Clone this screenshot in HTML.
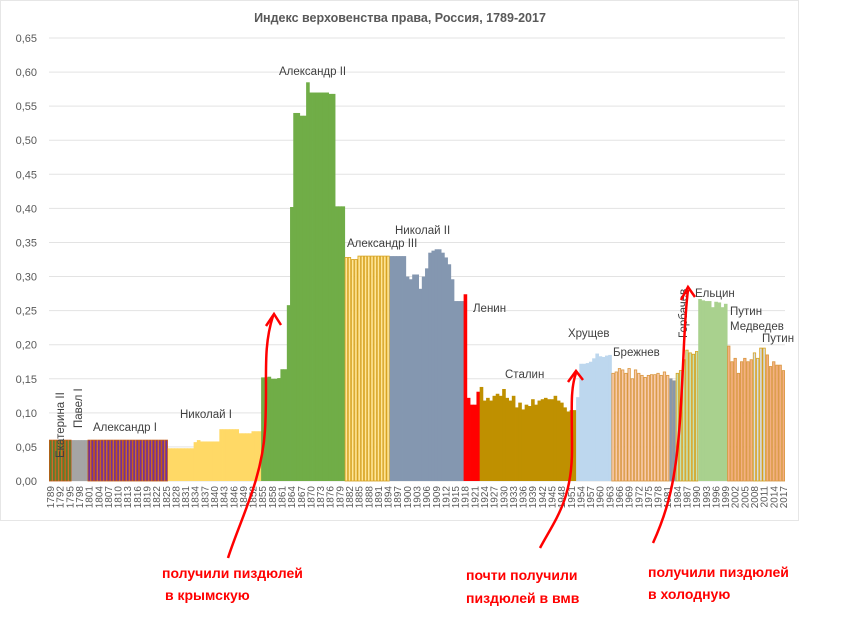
<!DOCTYPE html>
<html><head><meta charset="utf-8"><style>
body{margin:0;background:#fff;}
svg{display:block;font-family:"Liberation Sans","DejaVu Sans",sans-serif;}
</style></head><body>
<svg id="chart" width="853" height="642" viewBox="0 0 853 642">
<rect x="0.5" y="0.5" width="798" height="520" fill="none" stroke="#e6e6e6"/>
<text x="400" y="22" text-anchor="middle" font-size="12.5" font-weight="bold" fill="#595959">Индекс верховенства права, Россия, 1789-2017</text>
<g id="grid"></g><g id="bars"></g><g id="xlabels"></g><g id="rulers"></g><g id="notes"></g>
</svg>
<script>
const startYear = 1789;
const ekaterina = [0.06,0.06,0.06,0.06,0.06,0.06,0.06];
const pavel = [0.06,0.06,0.06,0.06,0.06];
const alexander1 = [0.06,0.06,0.06,0.06,0.06, 0.06,0.06,0.06,0.06,0.06, 0.06,0.06,0.06,0.06,0.06, 0.06,0.06,0.06,0.06,0.06, 0.06,0.06,0.06,0.06,0.06];
const nicholas1 = [0.048,0.048,0.048,0.048,0.048,0.048,0.048,0.048, 0.057,0.06, 0.058,0.058,0.058,0.058,0.058,0.058, 0.076,0.076,0.076,0.076,0.076,0.076, 0.07,0.07,0.07,0.07, 0.073,0.073,0.073];
const alexander2 = [0.152,0.152,0.153,0.150,0.150,0.151,0.164,0.164,0.258,0.402,0.540,0.540,0.536,0.536,0.585,0.570,0.570,0.570,0.570,0.570,0.570,0.568,0.568,0.403,0.403,0.403];
const alexander3 = [0.328,0.328,0.325,0.325,0.330,0.330,0.330,0.330,0.330,0.330,0.330,0.330,0.330,0.330];
const nicholas2 = [0.330,0.330,0.330,0.330,0.330,0.300,0.296,0.303,0.303,0.282,0.300,0.312,0.335,0.338,0.340,0.340,0.335,0.328,0.318,0.296,0.264,0.264,0.264];
const lenin = [0.274,0.122,0.112,0.112,0.131];
const stalin = [0.138,0.118,0.122,0.118,0.125,0.128,0.125,0.135,0.122,0.118,0.125,0.108,0.115,0.105,0.112,0.110,0.120,0.112,0.118,0.120,0.122,0.120,0.120,0.125,0.118,0.115,0.108,0.102,0.104,0.104];
const khrushchev = [0.123,0.172,0.172,0.173,0.175,0.180,0.187,0.183,0.182,0.184,0.185];
const brezhnev = [0.158,0.160,0.165,0.163,0.158,0.165,0.150,0.163,0.158,0.155,0.152,0.155,0.156,0.156,0.158,0.155,0.160,0.155];
const andropov = [0.150,0.147];
const gorbachev = [0.158,0.162,0.178,0.192,0.188,0.186,0.190];
const yeltsin = [0.267,0.265,0.264,0.264,0.255,0.263,0.262,0.255,0.260];
const putin1 = [0.198,0.175,0.180,0.158,0.175,0.180,0.175,0.178];
const medvedev = [0.188,0.180,0.195,0.195];
const putin2 = [0.185,0.168,0.175,0.170,0.170,0.162];
const rulerSeries = [ekaterina,pavel,alexander1,nicholas1,alexander2,alexander3,nicholas2,lenin,stalin,khrushchev,brezhnev,andropov,gorbachev,yeltsin,putin1,medvedev,putin2];
const rulerFill = ["#548235","#a5a5a5","#7030a0","#ffd966","#70ad47","#ffe699","#8497b0","#ff0000","#bf9000","#bdd7ee","#f8cbad","#8497b0","#c5e0b4","#a9d18e","#f4b183","#d6dce5","#f4b183"];
const rulerStroke = ["#c55a11","none","#c55a11","none","none","#d6a11c","none","none","none","none","#d9963e","#999999","#d6a11c","none","#d9963e","#d6a11c","#d9963e"];
const yTicks = ["0,00","0,05","0,10","0,15","0,20","0,25","0,30","0,35","0,40","0,45","0,50","0,55","0,60","0,65"];

const X0=49, X1=785, Y0=481, YTOP=38, VMAX=0.65;
const n = rulerSeries.reduce((s,a)=>s+a.length,0);
const bw = (X1-X0)/n;
const xs = i => X0 + i*bw;
const ys = v => Y0 - v/VMAX*(Y0-YTOP);
const NS="http://www.w3.org/2000/svg";
function mk(t,a,p){const e=document.createElementNS(NS,t);for(const k in a)e.setAttribute(k,a[k]);p.appendChild(e);return e;}

const grid=document.getElementById('grid');
yTicks.forEach((t,i)=>{
  const v=i*0.05, y=ys(v);
  const l=mk('line',{x1:X0,x2:X1,y1:y,y2:y,stroke:'#e3e3e3','stroke-width':1},grid);
  
  
  const tx=mk('text',{x:37,y:y+4,'text-anchor':'end','font-size':11,fill:'#595959'},grid);
  tx.textContent=t;
  
  
});

const bars=document.getElementById('bars');
let idx=0;
rulerSeries.forEach((arr,r)=>{
  arr.forEach(v=>{
    const st=rulerStroke[r];
    const a={x:xs(idx),y:ys(v),width:bw+(st==='none'?0.4:0),height:Y0-ys(v),fill:rulerFill[r]};
    if(st!=='none'){a.stroke=st;a['stroke-width']=0.8;a.x=xs(idx)+0.4;a.width=bw-0.8;}
    const b=mk('rect',a,bars);
    
    
    idx++;
  });
});

const xl=document.getElementById('xlabels');
for(let i=0;i<n;i+=3){
  const cx=xs(i)+bw/2+3.5;
  const t=mk('text',{x:0,y:0,transform:`translate(${cx},${Y0+5}) rotate(-90)`,'text-anchor':'end','font-size':10,fill:'#595959'},xl);
  t.textContent=String(startYear+i);
  
  
}

const rl=document.getElementById('rulers');
const labels=[
 ["Екатерина II",64,458,true],["Павел I",82,428,true],["Александр I",93,431],["Николай I",180,418],
 ["Александр II",279,75],["Александр III",347,247],["Николай II",395,234],["Ленин",473,312],
 ["Сталин",505,378],["Хрущев",568,337],["Брежнев",613,356],["Горбачев",687,338,true],
 ["Ельцин",695,297],["Путин",730,315],["Медведев",730,330],["Путин",762,342]];
labels.forEach(l=>{
  const a={'font-size':11.5,fill:'#404040'};
  if(l[3]){a.transform=`translate(${l[1]},${l[2]}) rotate(-90)`;a.x=0;a.y=0;}else{a.x=l[1];a.y=l[2];}
  const t=mk('text',a,rl);t.textContent=l[0];
  
  
});

const notes=document.getElementById('notes');
const arrows=[
 ["M228,558 C240,520 262,480 265,430 C268,380 262,350 273,316","M266,326 L274,314 L281,325"],
 ["M540,548 C555,520 572,500 572,450 C572,410 570,390 576,373","M568,382 L576,371 L583,380"],
 ["M653,543 C668,510 676,480 680,420 C684,360 684,320 688,290","M681,300 L688,287 L695,297"]];
arrows.forEach(a=>{
  const p=mk('path',{d:a[0],fill:'none',stroke:'#ff0000','stroke-width':2.5},notes);
  
  
  const h=mk('path',{d:a[1],fill:'none',stroke:'#ff0000','stroke-width':2.5},notes);
  
  
});
const texts=[["получили пиздюлей",162,578],["в крымскую",165,600],["почти получили",466,580],["пиздюлей в вмв",466,603],["получили пиздюлей",648,577],["в холодную",648,599]];
texts.forEach(t=>{
  const e=mk('text',{x:t[1],y:t[2],'font-size':14,'font-weight':'bold',fill:'#ff0000'},notes);
  e.textContent=t[0];
  
  
});
</script>
</body></html>
